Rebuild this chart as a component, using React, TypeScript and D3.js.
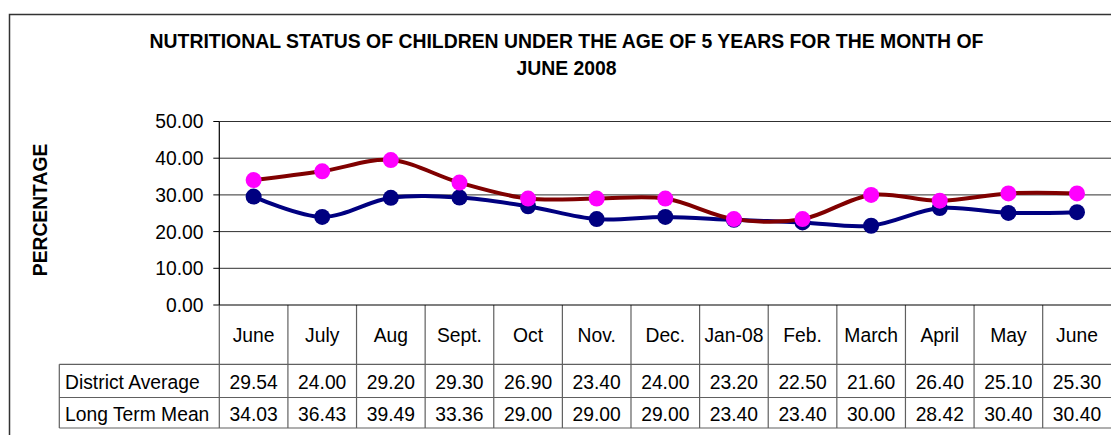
import React from 'react';
import * as d3 from 'd3';

const months = ['June', 'July', 'Aug', 'Sept.', 'Oct', 'Nov.', 'Dec.', 'Jan-08', 'Feb.', 'March', 'April', 'May', 'June'];
const districtAverage = [29.54, 24.0, 29.2, 29.3, 26.9, 23.4, 24.0, 23.2, 22.5, 21.6, 26.4, 25.1, 25.3];
const longTermMean = [34.03, 36.43, 39.49, 33.36, 29.0, 29.0, 29.0, 23.4, 23.4, 30.0, 28.42, 30.4, 30.4];
const yTicks = [0, 10, 20, 30, 40, 50];
const seriesNames = ['District Average', 'Long Term Mean'];

const W = 1111;
const H = 435;
const FONT = '"Liberation Sans", Arial, sans-serif';

export default function App() {
  const left = 219.3;
  const right = 1111.3;
  const top = 121.5;
  const bottom = 305;
  const rowLines = [364.3, 397.5, 428];

  const x = d3.scaleBand<number>().domain(months.map((_, i) => i)).range([left, right]).padding(0);
  const y = d3.scaleLinear().domain([0, 50]).range([bottom, top]);
  const cx = (i: number) => (x(i) as number) + x.bandwidth() / 2;

  const line = d3.line<number>()
    .x((_, i) => cx(i))
    .y(d => y(d))
    .curve(d3.curveCatmullRom.alpha(0.5));

  const series = [
    { values: districtAverage, stroke: '#000080', fill: '#000080' },
    { values: longTermMean, stroke: '#800000', fill: '#ff00ff' },
  ];

  const edges = months.map((_, i) => x(i) as number);

  return (
    <svg width={W} height={H} style={{ position: 'absolute', left: 0, top: 0, background: '#fff' }} fontFamily={FONT}>
      <rect x={0} y={0} width={W} height={H} fill="#fff" />
      {/* outer frame */}
      <path d={`M9.5,${H + 5} V14.5 H${W + 5}`} fill="none" stroke="#333" strokeWidth={1.5} />

      {/* title */}
      <text x={566.5} y={48} textAnchor="middle" fontWeight="bold" fontSize={19.4}>
        NUTRITIONAL STATUS OF CHILDREN UNDER THE AGE OF 5 YEARS FOR THE MONTH OF
      </text>
      <text x={566.5} y={75} textAnchor="middle" fontWeight="bold" fontSize={19.4}>
        JUNE 2008
      </text>

      {/* y axis title */}
      <text transform={`translate(47,210) rotate(-90)`} textAnchor="middle" fontWeight="bold" fontSize={19.3}>
        PERCENTAGE
      </text>

      {/* gridlines */}
      {yTicks.filter(t => t > 0).map(t => (
        <line key={t} x1={left} x2={W} y1={y(t)} y2={y(t)} stroke="#303030" strokeWidth={1} />
      ))}

      {/* y axis */}
      <line x1={left} x2={left} y1={top} y2={bottom} stroke="#000" strokeWidth={1.2} />
      {yTicks.map(t => (
        <g key={t}>
          <line x1={left - 6} x2={left} y1={y(t)} y2={y(t)} stroke="#000" />
          <text x={203.5} y={y(t)} dy="0.36em" textAnchor="end" fontSize={19.3}>
            {t.toFixed(2)}
          </text>
        </g>
      ))}

      {/* data table */}
      {rowLines.map((ry, i) => (
        <line key={i} x1={59.3} x2={W} y1={ry} y2={ry} stroke="#606060" strokeWidth={1.2} />
      ))}
      <line x1={59.3} x2={59.3} y1={rowLines[0]} y2={rowLines[2]} stroke="#606060" strokeWidth={1.2} />
      {edges.map((ex, i) => (
        <line key={i} x1={ex} x2={ex} y1={bottom} y2={rowLines[2]} stroke="#606060" strokeWidth={1.2} />
      ))}
      <line x1={left} x2={W} y1={bottom} y2={bottom} stroke="#000" strokeWidth={1.2} />
      {months.map((m, i) => (
        <text key={i} x={cx(i)} y={335} dy="0.36em" textAnchor="middle" fontSize={19.3}>{m}</text>
      ))}
      {[districtAverage, longTermMean].map((vals, r) => {
        const ry = (rowLines[r] + rowLines[r + 1]) / 2 + 1.5;
        return (
          <g key={r}>
            <text x={65} y={ry} dy="0.36em" fontSize={19.3}>{seriesNames[r]}</text>
            {vals.map((v, i) => (
              <text key={i} x={cx(i)} y={ry} dy="0.36em" textAnchor="middle" fontSize={19.3}>{v.toFixed(2)}</text>
            ))}
          </g>
        );
      })}

      {/* series */}
      {series.map((s, k) => (
        <g key={k}>
          <path d={line(s.values) as string} fill="none" stroke={s.stroke} strokeWidth={4} strokeLinejoin="round" />
          {s.values.map((v, i) => (
            <circle key={i} cx={cx(i)} cy={y(v)} r={8} fill={s.fill} />
          ))}
        </g>
      ))}
    </svg>
  );
}
